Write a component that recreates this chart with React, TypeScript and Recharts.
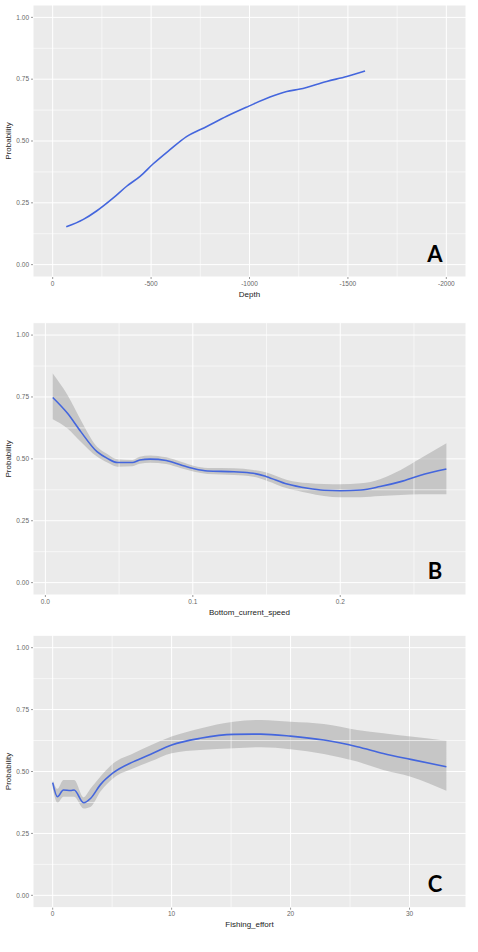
import React from 'react';
import {
  ComposedChart,
  Line,
  Area,
  XAxis,
  YAxis,
  CartesianGrid,
  ReferenceLine,
} from 'recharts';

// Panel A: depth response (fit only)
const depthX = [-69, -156, -223, -308, -376, -444, -511, -596, -680, -783, -884, -994, -1104, -1189, -1257, -1392, -1494, -1587];
const depthFit = [0.153, 0.183, 0.217, 0.27, 0.317, 0.357, 0.408, 0.465, 0.518, 0.559, 0.6, 0.64, 0.678, 0.7, 0.71, 0.741, 0.761, 0.783];

// Panel B: bottom current speed
const speedX = [0.005, 0.015, 0.024, 0.035, 0.042, 0.049, 0.059, 0.064, 0.071, 0.082, 0.092, 0.101, 0.11, 0.128, 0.141, 0.15, 0.164, 0.178, 0.189, 0.2, 0.214, 0.227, 0.241, 0.254, 0.272];
const speedFit = [0.748, 0.684, 0.61, 0.529, 0.502, 0.485, 0.485, 0.495, 0.499, 0.493, 0.475, 0.46, 0.451, 0.448, 0.442, 0.428, 0.398, 0.381, 0.373, 0.371, 0.374, 0.388, 0.408, 0.433, 0.459];
const speedUpper = [0.845, 0.758, 0.657, 0.549, 0.52, 0.498, 0.495, 0.508, 0.514, 0.506, 0.488, 0.471, 0.463, 0.462, 0.455, 0.445, 0.415, 0.402, 0.398, 0.397, 0.401, 0.418, 0.455, 0.5, 0.563];
const speedLower = [0.66, 0.623, 0.569, 0.509, 0.485, 0.468, 0.47, 0.48, 0.484, 0.479, 0.462, 0.448, 0.439, 0.435, 0.428, 0.412, 0.381, 0.362, 0.35, 0.345, 0.345, 0.35, 0.354, 0.357, 0.357];

// Panel C: fishing effort
const effortX = [0, 0.4, 0.9, 1.5, 1.8, 2.6, 3.2, 4.0, 5.1, 6.8, 8.2, 10.0, 12.4, 15.2, 17.5, 20.0, 22.8, 25.6, 27.8, 30.1, 33.1];
const effortFit = [0.455, 0.398, 0.425, 0.423, 0.425, 0.374, 0.392, 0.446, 0.495, 0.54, 0.569, 0.607, 0.634, 0.65, 0.651, 0.643, 0.627, 0.6, 0.573, 0.549, 0.519];
const effortUpper = [0.466, 0.43, 0.466, 0.466, 0.466, 0.396, 0.432, 0.479, 0.533, 0.574, 0.605, 0.641, 0.674, 0.701, 0.708, 0.701, 0.692, 0.668, 0.654, 0.641, 0.624];
const effortLower = [0.433, 0.373, 0.398, 0.398, 0.398, 0.351, 0.358, 0.418, 0.473, 0.513, 0.54, 0.574, 0.587, 0.594, 0.598, 0.59, 0.571, 0.54, 0.506, 0.479, 0.422];

const probTicks = [0, 0.25, 0.5, 0.75, 1];
const probMinor = [0.125, 0.375, 0.625, 0.875];

const depthTicks = [0, -500, -1000, -1500, -2000];
const depthMinor = [-250, -750, -1250, -1750];
const speedTicks = [0, 0.1, 0.2];
const speedMinor = [0.05, 0.15, 0.25];
const effortTicks = [0, 10, 20, 30];
const effortMinor = [5, 15, 25];

const FONT = '"Liberation Sans", Arial, sans-serif';
const tickStyle = { fontSize: 6.5, fill: '#666', fontFamily: FONT };

interface PanelProps {
  top: number;
  height: number;
  marginTop: number;
  marginBottom: number;
  data: { x: number; fit: number; band?: [number, number] }[];
  xDomain: [number, number];
  xTicks: number[];
  xMinor: number[];
  reversed?: boolean;
  xLabel: string;
  tickFmt?: (v: number) => string;
  letter: string;
  letterY: number;
}

const Panel: React.FC<PanelProps> = ({
  top, height, marginTop, marginBottom, data, xDomain, xTicks, xMinor,
  reversed, xLabel, tickFmt, letter, letterY,
}) => {
  const hasBand = data.some((d) => d.band);
  return (
    <div style={{ position: 'absolute', left: 0, top, width: 478, height }}>
      <ComposedChart
        width={478}
        height={height}
        data={data}
        margin={{ top: marginTop, right: 12, bottom: marginBottom, left: 0 }}
        style={{ fontFamily: FONT }}
      >
        <CartesianGrid fill="#EBEBEB" stroke="#FFFFFF" strokeWidth={1} />
        {xMinor.map((v) => (
          <ReferenceLine key={'vx' + v} x={v} stroke="#FFFFFF" strokeWidth={0.6} />
        ))}
        {probMinor.map((v) => (
          <ReferenceLine key={'hy' + v} y={v} stroke="#FFFFFF" strokeWidth={0.6} />
        ))}
        <XAxis
          dataKey="x"
          type="number"
          domain={xDomain}
          ticks={xTicks}
          reversed={reversed}
          allowDataOverflow
          axisLine={false}
          tickLine={{ stroke: '#555', strokeWidth: 0.6 }}
          tickSize={2}
          tickMargin={2}
          tick={tickStyle}
          tickFormatter={tickFmt}
          height={30}
          label={{
            value: xLabel,
            position: 'insideTop',
            offset: 14,
            fontSize: 8,
            fill: '#222',
            fontFamily: FONT,
          }}
        />
        <YAxis
          type="number"
          domain={[-0.05, 1.05]}
          ticks={probTicks}
          allowDataOverflow
          width={33}
          axisLine={false}
          tickLine={{ stroke: '#555', strokeWidth: 0.6 }}
          tickSize={2}
          tickMargin={2}
          tick={tickStyle}
          tickFormatter={(v: number) => v.toFixed(2)}
          label={{
            value: 'Probability',
            angle: -90,
            position: 'insideLeft',
            offset: 8,
            fontSize: 8,
            fill: '#222',
            fontFamily: FONT,
            style: { textAnchor: 'middle' },
          }}
        />
        {hasBand && (
          <Area
            dataKey="band"
            type="monotone"
            stroke="none"
            fill="#999999"
            fillOpacity={0.45}
            isAnimationActive={false}
            activeDot={false}
          />
        )}
        <Line
          dataKey="fit"
          type="monotone"
          stroke="#4466DD"
          strokeWidth={1.6}
          dot={false}
          activeDot={false}
          isAnimationActive={false}
        />
      </ComposedChart>
      <div
        style={{
          position: 'absolute',
          left: 415,
          top: letterY - top - 11.6,
          width: 40,
          textAlign: 'center',
          fontFamily: 'Lato, "Open Sans", sans-serif',
          fontWeight: 700,
          fontSize: 22,
          lineHeight: '22px',
          color: '#000',
        }}
      >
        {letter}
      </div>
    </div>
  );
};

const depthData = depthX.map((x, i) => ({ x, fit: depthFit[i] }));
const speedData = speedX.map((x, i) => ({
  x,
  fit: speedFit[i],
  band: [speedLower[i], speedUpper[i]] as [number, number],
}));
const effortData = effortX.map((x, i) => ({
  x,
  fit: effortFit[i],
  band: [effortLower[i], effortUpper[i]] as [number, number],
}));

export default function App() {
  return (
    <div style={{ position: 'absolute', left: 0, top: 0, width: 478, height: 952, background: '#fff' }}>
      <Panel
        top={0}
        height={310}
        marginTop={5}
        marginBottom={3}
        data={depthData}
        xDomain={[-2100, 100]}
        xTicks={depthTicks}
        xMinor={depthMinor}
        reversed
        xLabel="Depth"
        letter="A"
        letterY={255}
      />
      <Panel
        top={310}
        height={320}
        marginTop={12.7}
        marginBottom={5}
        data={speedData}
        xDomain={[-0.0084, 0.2853]}
        xTicks={speedTicks}
        xMinor={speedMinor}
        xLabel="Bottom_current_speed"
        tickFmt={(v: number) => v.toFixed(1)}
        letter="B"
        letterY={572}
      />
      <Panel
        top={630}
        height={322}
        marginTop={5.3}
        marginBottom={14.3}
        data={effortData}
        xDomain={[-1.655, 34.75]}
        xTicks={effortTicks}
        xMinor={effortMinor}
        xLabel="Fishing_effort"
        letter="C"
        letterY={885}
      />
    </div>
  );
}
